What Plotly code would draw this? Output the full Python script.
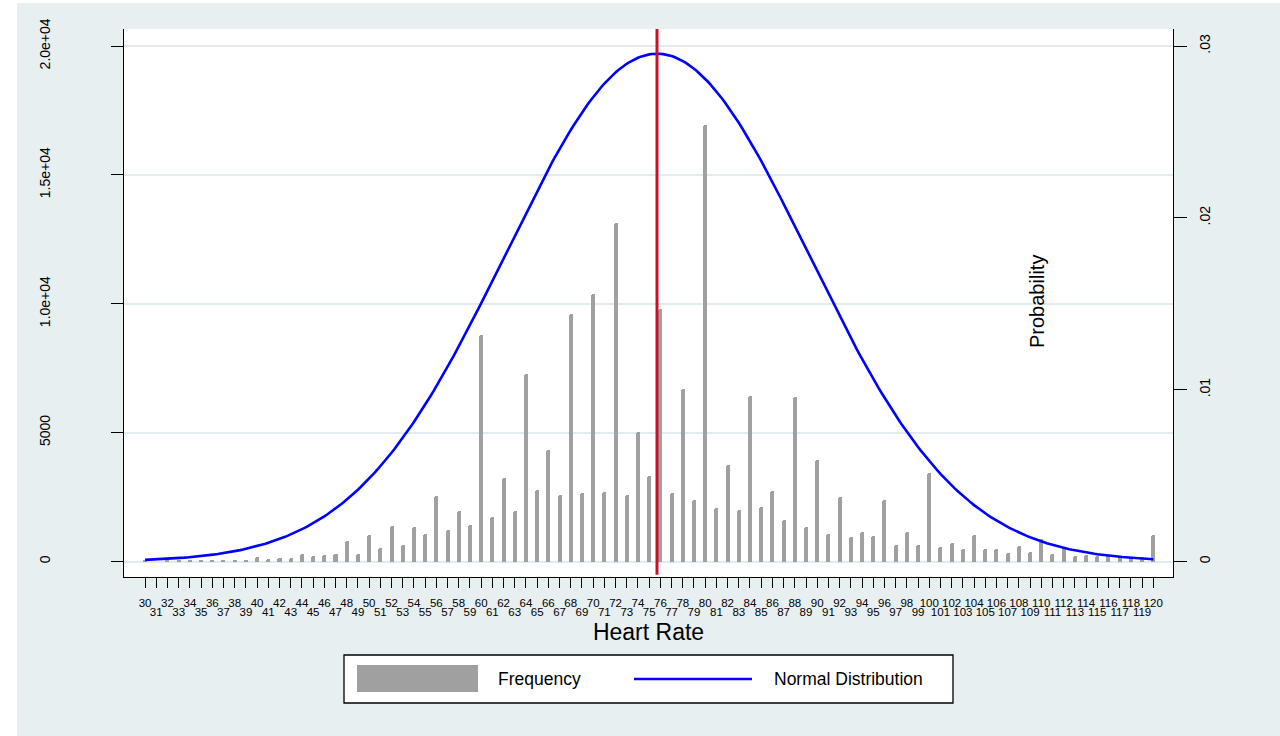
import math
import plotly.graph_objects as go

# ---------------- data ----------------
HEART_RATE = list(range(30, 121))
FREQUENCY = [
    40, 0, 40, 40, 40, 40, 40, 40, 40, 40,            # 30-39
    180, 80, 140, 120, 300, 210, 250, 280, 800, 310,  # 40-49
    1010, 540, 1360, 640, 1330, 1080, 2530, 1240, 1970, 1410,  # 50-59
    8800, 1730, 3230, 1960, 7270, 2790, 4330, 2580, 9600, 2660,  # 60-69
    10390, 2710, 13130, 2580, 5020, 3310, 9800, 2660, 6700, 2370,  # 70-79
    16950, 2080, 3750, 2010, 6420, 2120, 2730, 1600, 6370, 1340,  # 80-89
    3930, 1080, 2500, 940, 1160, 990, 2390, 630, 1160, 640,  # 90-99
    3450, 550, 700, 500, 1040, 470, 470, 340, 610, 350,  # 100-109
    880, 280, 520, 210, 250, 200, 250, 200, 170, 170,  # 110-119
    1040,  # 120
]
MEAN_HR = 75.7
SD_HR = 13.5

LEFT_TICKS = [0, 5000, 10000, 15000, 20000]
LEFT_TICK_TEXT = ["0", "5000", "1.0e+04", "1.5e+04", "2.0e+04"]
RIGHT_TICKS = [0, 0.01, 0.02, 0.03]
RIGHT_TICK_TEXT = ["0", ".01", ".02", ".03"]

# normal density curve evaluated from mean / sd of heart rate
curve_x = [30 + i * 0.25 for i in range(int((120 - 30) / 0.25) + 1)]
curve_y = [math.exp(-0.5 * ((v - MEAN_HR) / SD_HR) ** 2) / (SD_HR * math.sqrt(2 * math.pi)) for v in curve_x]

FONT = "Liberation Sans, Arial, sans-serif"
BG = "#e8eff1"
GRID = "#e2ebee"
BAR_COLOR = "#a0a0a0"
LINE_COLOR = "#0000ff"
MEAN_COLOR = "#c8102e"

XR = [28.12, 121.76]
YR = [-601, 20660]
YR2 = [YR[0] * 0.03 / 20000, YR[1] * 0.03 / 20000]

fig = go.Figure()
fig.add_trace(go.Bar(
    x=HEART_RATE, y=FREQUENCY, name="Frequency", width=0.36,
    marker=dict(color=BAR_COLOR, line=dict(width=0), cornerradius=2),
    showlegend=False, xaxis="x", yaxis="y",
))
fig.add_trace(go.Scatter(
    x=curve_x, y=curve_y, mode="lines", name="Normal Distribution",
    line=dict(color=LINE_COLOR, width=2.6), showlegend=False,
    xaxis="x", yaxis="y2",
))
# dummy empty trace so the second x label row axis is rendered
fig.add_trace(go.Scatter(x=[], y=[], xaxis="x3", yaxis="y", showlegend=False, hoverinfo="skip"))

even_text = [str(v) if v % 2 == 0 else "" for v in HEART_RATE]
odd_vals = [v for v in HEART_RATE if v % 2 == 1]

fig.update_layout(
    width=1280, height=736,
    margin=dict(l=124, r=107, t=29, b=159, pad=0),
    paper_bgcolor=BG, plot_bgcolor="white",
    font=dict(family=FONT, color="black"),
    bargap=0,
    xaxis=dict(
        range=XR, tickmode="array", tickvals=HEART_RATE, ticktext=even_text,
        ticks="outside", ticklen=10, tickwidth=1, tickcolor="black",
        tickfont=dict(size=11.5), tickangle=0, ticklabelstandoff=5,
        showgrid=False, zeroline=False, showline=True, linecolor="black", linewidth=1.3,
        title=dict(text="Heart Rate", font=dict(size=23), standoff=15),
        automargin=False, anchor="y",
    ),
    xaxis3=dict(
        range=XR, overlaying="x", anchor="y", side="bottom",
        tickmode="array", tickvals=odd_vals, ticktext=[str(v) for v in odd_vals],
        ticks="outside", ticklen=10, tickcolor="rgba(0,0,0,0)",
        tickfont=dict(size=11.5), tickangle=0, ticklabelstandoff=14,
        showgrid=False, zeroline=False, showline=False, automargin=False,
    ),
    yaxis=dict(
        range=YR, tickmode="array", tickvals=LEFT_TICKS, ticktext=LEFT_TICK_TEXT,
        tickangle=-90, tickfont=dict(size=14),
        ticks="outside", ticklen=12, tickwidth=1, tickcolor="black", ticklabelstandoff=55,
        showgrid=True, gridcolor=GRID, gridwidth=2, zeroline=False,
        showline=True, linecolor="black", linewidth=1.3, automargin=False,
    ),
    yaxis2=dict(
        range=YR2, overlaying="y", side="right", anchor="x",
        tickmode="array", tickvals=RIGHT_TICKS, ticktext=RIGHT_TICK_TEXT,
        tickangle=-90, tickfont=dict(size=14),
        ticks="outside", ticklen=13, tickwidth=1, tickcolor="black", ticklabelstandoff=6,
        showgrid=False, zeroline=False,
        showline=True, linecolor="black", linewidth=1.3, automargin=False,
    ),
)

# white strips at the far left / top edge of the image
fig.add_shape(type="rect", xref="paper", yref="paper", layer="below",
              x0=-124 / 1049, x1=(17 - 124) / 1049, y0=-159 / 548, y1=(577) / 548,
              fillcolor="white", line=dict(width=0))
fig.add_shape(type="rect", xref="paper", yref="paper", layer="below",
              x0=-124 / 1049, x1=1156 / 1049, y0=(577 - 3) / 548, y1=577 / 548,
              fillcolor="white", line=dict(width=0))

# mean line
fig.add_shape(type="line", xref="x", yref="paper", x0=MEAN_HR, x1=MEAN_HR, y0=0.004, y1=1.0,
              line=dict(color=MEAN_COLOR, width=3))

# "Probability" axis title placed inside plot as in the original
fig.add_annotation(text="Probability", xref="paper", yref="paper",
                   x=(1050 - 124) / 1049, y=(577 - 302) / 548, textangle=-90,
                   showarrow=False, font=dict(size=20, family=FONT, color="black"))

# custom legend
def px_x(p):
    return (p - 124) / 1049

def px_y(p):
    return (577 - p) / 548

fig.add_shape(type="rect", xref="paper", yref="paper",
              x0=px_x(344), x1=px_x(953), y0=px_y(703), y1=px_y(655),
              fillcolor="white", line=dict(color="black", width=1.3))
fig.add_shape(type="rect", xref="paper", yref="paper",
              x0=px_x(357), x1=px_x(478), y0=px_y(692), y1=px_y(665),
              fillcolor=BAR_COLOR, line=dict(width=0))
fig.add_shape(type="line", xref="paper", yref="paper",
              x0=px_x(634), x1=px_x(752), y0=px_y(679), y1=px_y(679),
              line=dict(color=LINE_COLOR, width=2.6))
fig.add_annotation(text="Frequency", xref="paper", yref="paper", x=px_x(496), y=px_y(679),
                   xanchor="left", yanchor="middle", showarrow=False,
                   font=dict(size=17.5, family=FONT, color="black"))
fig.add_annotation(text="Normal Distribution", xref="paper", yref="paper", x=px_x(772), y=px_y(679),
                   xanchor="left", yanchor="middle", showarrow=False,
                   font=dict(size=17.5, family=FONT, color="black"))

fig.write_html("out.html")
